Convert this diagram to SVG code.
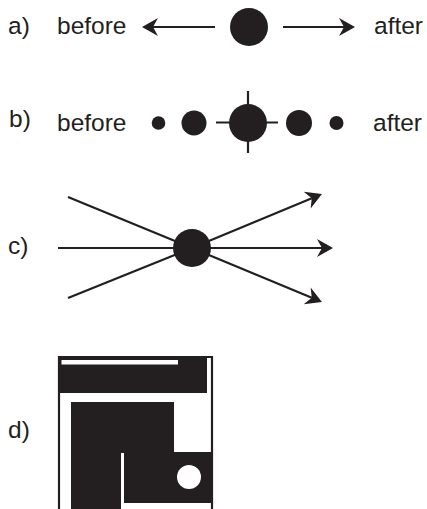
<svg xmlns="http://www.w3.org/2000/svg" width="427" height="509" viewBox="0 0 427 509">
  <style>
    .lbl { font-family: "Liberation Sans", Arial, sans-serif; font-size: 24.5px; fill: #231f20; }
    .ln { stroke: #231f20; stroke-width: 2.2; fill: none; }
    .dot { fill: #231f20; }
  </style>
  <defs>
    <marker id="head" markerUnits="userSpaceOnUse" orient="auto" refX="0" refY="0"
            viewBox="-6 -10 18 20" markerWidth="18" markerHeight="20">
      <path d="M11,0 L-5,-9 L0,0 L-5,9 Z" fill="#231f20"/>
    </marker>
  </defs>
  <rect width="427" height="509" fill="#ffffff"/>

  <!-- row a: single point spreading to before and after -->
  <g id="row-a">
    <text class="lbl" x="8" y="34">a)</text>
    <text class="lbl" x="57" y="34">before</text>
    <text class="lbl" x="374" y="34">after</text>
    <circle id="a-point" class="dot" cx="249" cy="27" r="19"/>
  </g>

  <!-- row b: sequence of points around a central event -->
  <g id="row-b">
    <text class="lbl" x="9" y="127">b)</text>
    <text class="lbl" x="57" y="131">before</text>
    <text class="lbl" x="373" y="131">after</text>
    <circle class="dot" cx="158.5" cy="123" r="6.8"/>
    <circle class="dot" cx="194" cy="123" r="12.5"/>
    <g id="b-center">
      <line class="ln" x1="216" y1="122.5" x2="278" y2="122.5"/>
      <line class="ln" x1="248" y1="91" x2="248" y2="153"/>
      <circle class="dot" cx="248" cy="123" r="19"/>
    </g>
    <circle class="dot" cx="299" cy="123" r="13"/>
    <circle class="dot" cx="336.5" cy="123" r="7"/>
  </g>

  <!-- row c: paths converging through a single point -->
  <g id="row-c">
    <text class="lbl" x="8" y="254">c)</text>
    <circle id="c-point" class="dot" cx="192" cy="248" r="19"/>
  </g>

  <!-- row d: block layout -->
  <g id="row-d">
    <text class="lbl" x="8" y="438">d)</text>
    <path class="ln" d="M59,509 V357 H212 V509" stroke-width="2"/>
    <rect x="58" y="356" width="149" height="37" fill="#231f20"/>
    <rect x="61.5" y="360" width="116.5" height="4.5" fill="#ffffff"/>
    <path d="M71,402 H174 V452 H213 V503 H124 V453 H121 V509 H71 Z" fill="#231f20"/>
    <circle cx="189" cy="477" r="12" fill="#ffffff"/>
  </g>

  <!-- connectors -->
  <g id="connectors">
    <line class="ln" x1="215" y1="27" x2="153" y2="27" marker-end="url(#head)"/>
    <line class="ln" x1="283" y1="27" x2="344" y2="27" marker-end="url(#head)"/>
    <line class="ln" x1="58" y1="248" x2="322" y2="248" marker-end="url(#head)"/>
    <line class="ln" x1="68" y1="197" x2="192" y2="248"/>
    <line class="ln" x1="192" y1="248" x2="311.8" y2="198.2" marker-end="url(#head)"/>
    <line class="ln" x1="68" y1="298" x2="192" y2="248"/>
    <line class="ln" x1="192" y1="248" x2="311.8" y2="297.8" marker-end="url(#head)"/>
  </g>
</svg>
